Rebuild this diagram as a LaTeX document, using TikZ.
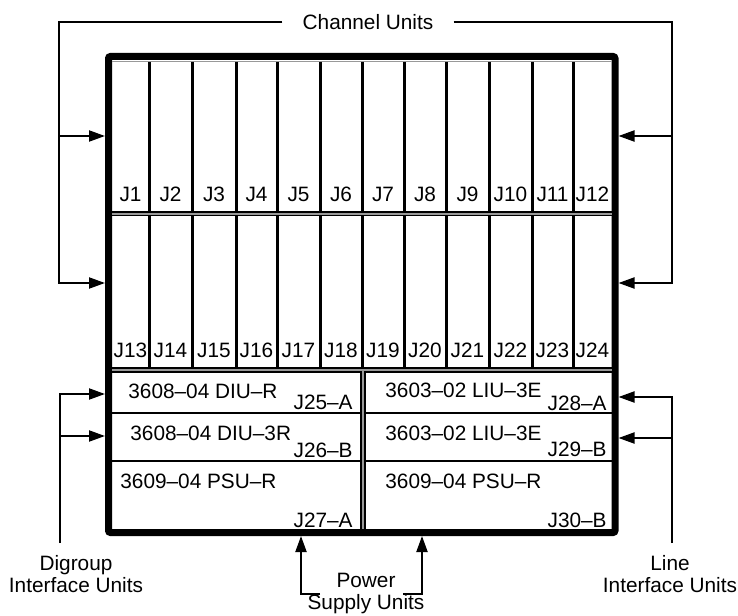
\documentclass[tikz,border=0pt]{standalone}
\usepackage{fontspec}
\setmainfont{Liberation Sans}
\usetikzlibrary{arrows.meta}

\begin{document}
\begin{tikzpicture}[
  x=0.5pt, y=-0.5pt,
  every node/.style={font=\fontsize{10.4}{11}\selectfont},
  rack/.style={
    draw, line width=3.5pt, rounded corners=1pt, inner sep=0pt,
    minimum width=253.25pt, minimum height=238pt
  },
  slotline/.style={line width=1.5pt},
  rowline/.style={line width=1pt},
  rail/.style={draw=black, line width=0.8pt, double=black!40, double distance=1pt},
  arr/.style={-{Triangle[length=8pt,width=5.5pt]}, line width=1pt},
  lbl/.style={inner sep=0pt},
  grp/.style={align=center, anchor=north, inner xsep=0pt, inner ysep=6pt},
]
\useasboundingbox (0,0) rectangle (738,615);

%% --- Shelf frame ----------------------------------------------------
\node[rack] (rack) at (361.75,294.5) {};
\draw[black!40, line width=0.8pt] (112,61.5) -- (612,61.5);

%% --- Channel unit slots (two rows of twelve) -------------------------
\foreach \x in {149,192,236,277,320,362,404,446,489,532,573}
  \draw[slotline] (\x,62) -- (\x,370);
\foreach \x [count=\i] in {130.5,170.5,214,256.5,298.5,341,383,425,467.5,510.5,552.5,592.5} {
  \pgfmathtruncatemacro\k{\i+12}
  \node[lbl, anchor=base] (j\i) at (\x,201) {J\i};
  \node[lbl, anchor=base] (j\k) at (\x,357) {J\k};
}

%% --- Interface / power units -----------------------------------------
\draw[rowline] (112,413) -- (612,413);
\draw[rowline] (112,461) -- (612,461);
\draw[rail] (112,213.5) -- (612,213.5);
\draw[rail] (112,370) -- (612,370);
\draw[rail] (363,371) -- (363,529);

\node[lbl, anchor=base west] (diuA)  at (128,398) {3608–04 DIU–R};
\node[lbl, anchor=base east] (jdiuA) at (353,409) {J25–A};
\node[lbl, anchor=base west] (diuB)  at (130,440) {3608–04 DIU–3R};
\node[lbl, anchor=base east] (jdiuB) at (353,457) {J26–B};
\node[lbl, anchor=base west] (psuA)  at (120,488) {3609–04 PSU–R};
\node[lbl, anchor=base east] (jpsuA) at (353,527) {J27–A};

\node[lbl, anchor=base west] (liuA)  at (385,397) {3603–02 LIU–3E};
\node[lbl, anchor=base east] (jliuA) at (607,410) {J28–A};
\node[lbl, anchor=base west] (liuB)  at (385,440) {3603–02 LIU–3E};
\node[lbl, anchor=base east] (jliuB) at (607,456) {J29–B};
\node[lbl, anchor=base west] (psuB)  at (385,488) {3609–04 PSU–R};
\node[lbl, anchor=base east] (jpsuB) at (607,527) {J30–B};

%% --- Channel Units callout ------------------------------------------
\node[inner xsep=10pt, inner ysep=0pt] (chan) at (368,22.5) {Channel Units};
\coordinate (cuA) at (59,136);
\coordinate (cuB) at (59,283);
\coordinate (cuC) at (672,136);
\coordinate (cuD) at (672,283);
\draw[arr] (chan.west) -| (cuB) -- (cuB -| rack.west);
\draw[arr] (cuA) -- (cuA -| rack.west);
\draw[arr] (chan.east) -| (cuD) -- (cuD -| rack.east);
\draw[arr] (cuC) -- (cuC -| rack.east);

%% --- Digroup / line interface callouts ------------------------------
\node[grp] (dig) at (76,543) {Digroup\\Interface Units};
\coordinate (dgA) at (60,394);
\coordinate (dgB) at (60,436);
\draw[arr] (dig.north -| dgA) -- (dgA) -- (dgA -| rack.west);
\draw[arr] (dgB) -- (dgB -| rack.west);

\node[grp] (liu) at (670,543) {Line\\Interface Units};
\coordinate (liA) at (672,397);
\coordinate (liB) at (672,438);
\draw[arr] (liu.north -| liA) -- (liA) -- (liA -| rack.east);
\draw[arr] (liB) -- (liB -| rack.east);

%% --- Power Supply Units callout -------------------------------------
\node[grp] (psu) at (366,561) {Power\\Supply Units};
\coordinate (psL)  at (301,594);
\coordinate (psLe) at (320,594);
\coordinate (psR)  at (422,594);
\coordinate (psRe) at (403,594);
\draw[arr] (psLe) -- (psL) -- (psL |- rack.south);
\draw[arr] (psRe) -- (psR) -- (psR |- rack.south);

\end{tikzpicture}
\end{document}
